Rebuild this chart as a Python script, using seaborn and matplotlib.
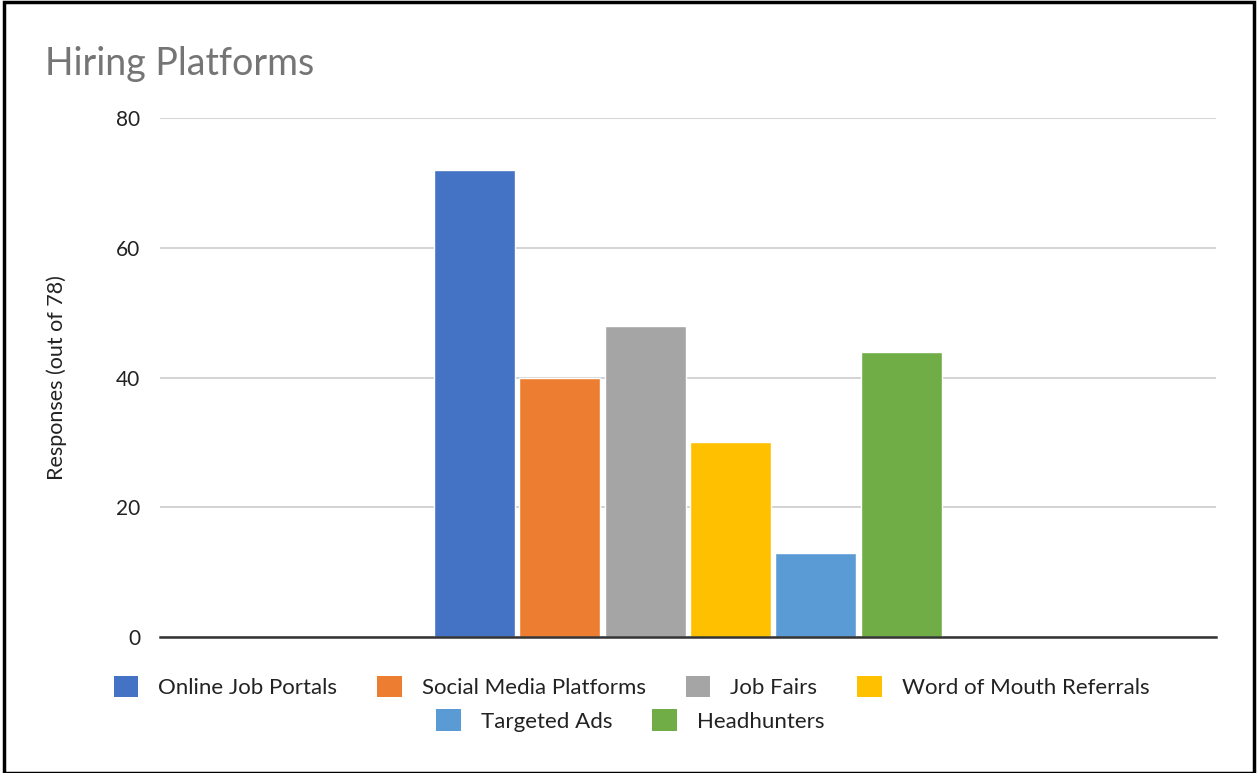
"""Hiring Platforms bar chart."""

import matplotlib

matplotlib.use("Agg")
import matplotlib.pyplot as plt
import pandas as pd
import seaborn as sns
from matplotlib.patches import Patch, Rectangle

PLATFORMS = [
    "Online Job Portals",
    "Social Media Platforms",
    "Job Fairs",
    "Word of Mouth Referrals",
    "Targeted Ads",
    "Headhunters",
]
RESPONSES = [72, 40, 48, 30, 13, 44]
COLORS = ["#4472C4", "#ED7D31", "#A5A5A5", "#FFC000", "#5B9BD5", "#70AD47"]
Y_TICKS = [0, 20, 40, 60, 80]


def main() -> None:
    sns.set_theme(style="white")
    plt.rcParams["font.family"] = ["Lato", "DejaVu Sans"]

    df = pd.DataFrame({"group": [""] * len(PLATFORMS), "platform": PLATFORMS, "responses": RESPONSES})

    fig = plt.figure(figsize=(12.58, 7.73), dpi=100)
    ax = fig.add_axes([0.127, 0.176, 0.8396, 0.671])

    sns.barplot(
        data=df,
        x="group",
        y="responses",
        hue="platform",
        hue_order=PLATFORMS,
        palette=COLORS,
        width=0.485,
        gap=0.05,
        saturation=1,
        legend=False,
        ax=ax,
    )

    ax.set_xlim(-0.5, 0.5)
    ax.set_ylim(0, 80)
    ax.set_yticks(Y_TICKS)
    ax.tick_params(axis="y", labelsize=15, colors="#222222", length=0, pad=14)
    ax.set_xticks([])
    ax.set_xlabel("")
    ax.set_ylabel("Responses (out of 78)", fontsize=15.5, color="#222222", labelpad=35)
    ax.yaxis.grid(True, color="#CCCCCC", linewidth=1.2)
    ax.set_axisbelow(True)
    for side in ["left", "right", "top"]:
        ax.spines[side].set_visible(False)
    ax.spines["bottom"].set_color("#333333")
    ax.spines["bottom"].set_linewidth(1.8)

    fig.text(0.036, 0.903, "Hiring Platforms", fontsize=27, color="#757575")

    handles = [Patch(facecolor=c, edgecolor="none") for c in COLORS]
    common = dict(
        frameon=False,
        fontsize=16,
        handlelength=1.1,
        handleheight=1.1,
        handletextpad=0.9,
        columnspacing=1.8,
        labelcolor="#222222",
        borderaxespad=0,
    )
    fig.legend(handles[:4], PLATFORMS[:4], ncol=4, loc="center", bbox_to_anchor=(0.502, 0.111), **common)
    fig.legend(handles[4:], PLATFORMS[4:], ncol=2, loc="center", bbox_to_anchor=(0.501, 0.068), **common)

    fig.patches.append(
        Rectangle((0.003, 0.0), 0.994, 0.998, transform=fig.transFigure, fill=False, edgecolor="black", linewidth=2.5)
    )

    fig.savefig("out.png", dpi=100)


if __name__ == "__main__":
    main()
